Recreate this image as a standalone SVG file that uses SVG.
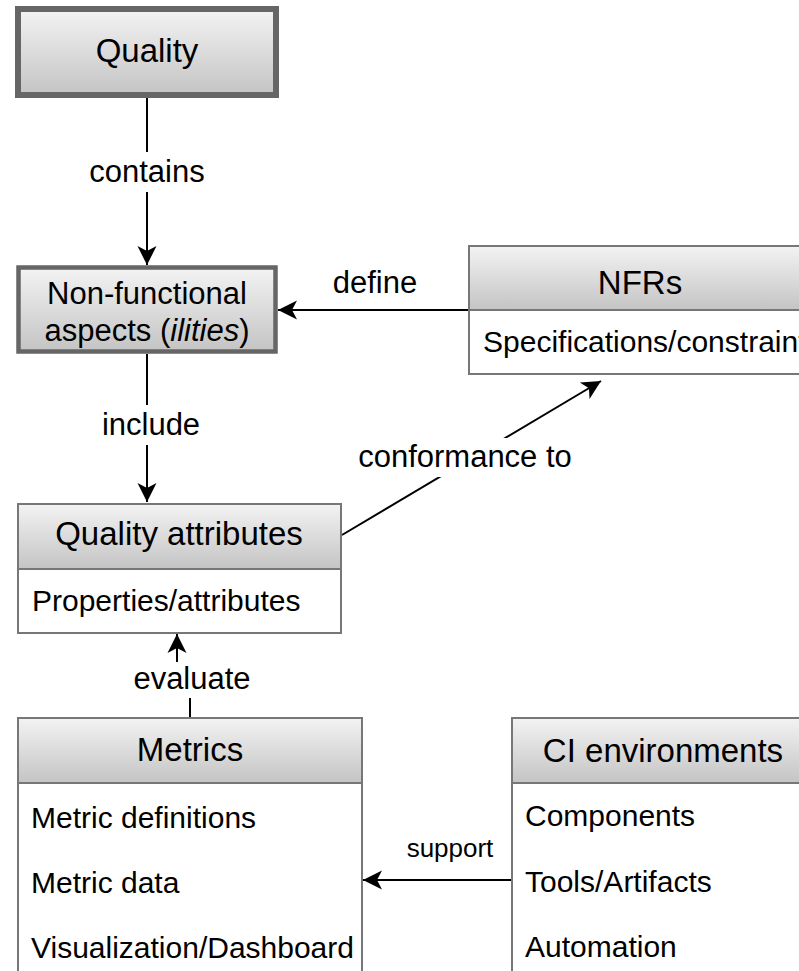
<svg xmlns="http://www.w3.org/2000/svg" width="799" height="971" viewBox="0 0 799 971">
<defs>
<linearGradient id="hg" x1="0" y1="0" x2="0" y2="1">
<stop offset="0" stop-color="#f3f3f3"/>
<stop offset="1" stop-color="#c4c4c4"/>
</linearGradient>
<marker id="arr" markerUnits="userSpaceOnUse" markerWidth="24" markerHeight="24" viewBox="-21 -12 24 24" refX="0" refY="0" orient="auto">
<path d="M0,0 L-19,-9.5 L-14,0 L-19,9.5 Z" fill="#000"/>
</marker>
</defs>
<style>
text{font-family:"Liberation Sans",Arial,Helvetica,sans-serif;fill:#000}
.t{font-size:33px;text-anchor:middle}
.b{font-size:30px}
.l{font-size:31px;text-anchor:middle}
.s{font-size:26px;text-anchor:middle}
.box{fill:#fff;stroke:#777;stroke-width:2}
.hdr{fill:url(#hg);stroke:#777;stroke-width:2}
.edge{fill:none;stroke:#000;stroke-width:2}
.lbg{fill:#fff}
</style>

<g id="connectors">
<line class="edge" x1="147" y1="97" x2="147" y2="265" marker-end="url(#arr)"/>
<rect class="lbg" x="86" y="152" width="122" height="40"/>
<text class="l" x="147" y="182">contains</text>

<line class="edge" x1="470" y1="310" x2="278" y2="310" marker-end="url(#arr)"/>
<text class="l" x="375" y="293">define</text>

<line class="edge" x1="147" y1="354" x2="147" y2="502" marker-end="url(#arr)"/>
<rect class="lbg" x="98" y="405" width="106" height="40"/>
<text class="l" x="151" y="435">include</text>

<line class="edge" x1="342" y1="535" x2="601" y2="381" marker-end="url(#arr)"/>
<rect class="lbg" x="352" y="438" width="227" height="39"/>
<text class="l" x="465" y="467">conformance to</text>

<path class="edge" d="M190,718 L190,680 L177,680 L177,634" marker-end="url(#arr)"/>
<rect class="lbg" x="134" y="662" width="117" height="36"/>
<text class="l" x="192" y="689">evaluate</text>

<line class="edge" x1="512" y1="880" x2="363" y2="880" marker-end="url(#arr)"/>
<text class="s" x="450" y="857">support</text>
</g>

<g id="quality">
<rect x="18" y="9" width="258" height="86" fill="url(#hg)" stroke="#666" stroke-width="6"/>
<text class="t" x="147" y="62">Quality</text>
</g>

<g id="nonfunctional">
<rect x="18.5" y="267.5" width="257" height="84" fill="url(#hg)" stroke="#666" stroke-width="4.5"/>
<text class="l" x="147" y="304">Non-functional</text>
<text class="l" x="147" y="341">aspects (<tspan font-style="italic">ilities</tspan>)</text>
</g>

<g id="nfrs">
<rect class="box" x="469" y="246" width="345" height="128"/>
<rect class="hdr" x="469" y="246" width="345" height="64"/>
<text class="t" x="640" y="294">NFRs</text>
<text class="b" x="483" y="352">Specifications/constraints</text>
</g>

<g id="qualityattributes">
<rect class="box" x="18" y="504" width="323" height="129"/>
<rect class="hdr" x="18" y="504" width="323" height="65"/>
<text class="t" x="179" y="545">Quality attributes</text>
<text class="b" x="32" y="611">Properties/attributes</text>
</g>

<g id="metrics">
<rect class="box" x="18" y="718" width="344" height="275"/>
<rect class="hdr" x="18" y="718" width="344" height="65"/>
<text class="t" x="190" y="761">Metrics</text>
<text class="b" x="31" y="828">Metric definitions</text>
<text class="b" x="31" y="893">Metric data</text>
<text class="b" x="31" y="958">Visualization/Dashboard</text>
</g>

<g id="ci">
<rect class="box" x="512" y="718" width="302" height="275"/>
<rect class="hdr" x="512" y="718" width="302" height="65"/>
<text class="t" x="663" y="762">CI environments</text>
<text class="b" x="525" y="826">Components</text>
<text class="b" x="525" y="892">Tools/Artifacts</text>
<text class="b" x="525" y="957">Automation</text>
</g>
</svg>
